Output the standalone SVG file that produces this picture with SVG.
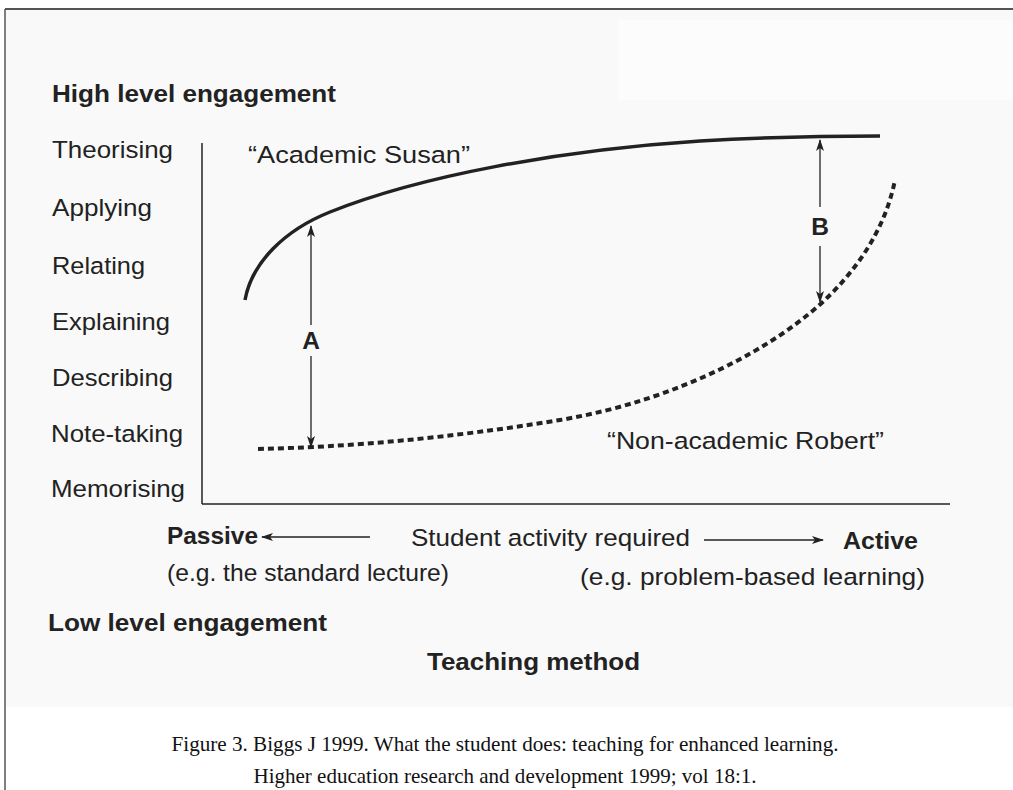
<svg xmlns="http://www.w3.org/2000/svg" width="1013" height="790" viewBox="0 0 1013 790">
<style>
.lbl{font-family:"Liberation Sans",Arial,sans-serif;font-size:24.5px;fill:#222}
.bold{font-family:"Liberation Sans",Arial,sans-serif;font-size:24.5px;font-weight:bold;fill:#222}
.cap{font-family:"Liberation Serif","Times New Roman",serif;font-size:21px;fill:#111}
.ln{stroke:#222;fill:none}
</style>
<defs>
<marker id="ah" viewBox="0 0 12 8" refX="11" refY="4" markerWidth="12" markerHeight="8" markerUnits="userSpaceOnUse" orient="auto-start-reverse">
<path d="M0,0 L12,4 L0,8 L3,4 z" fill="#222"/>
</marker>
</defs>
<rect x="0" y="0" width="1013" height="790" fill="#ffffff"/>
<rect x="6" y="10" width="1007" height="697" fill="#f9f9f9"/>
<rect x="618" y="20" width="395" height="80" fill="#fcfcfc"/>
<line x1="5" y1="9" x2="1013" y2="9" stroke="#555" stroke-width="2"/>
<line x1="5" y1="9" x2="5" y2="790" stroke="#555" stroke-width="1.5"/>

<g id="axes">
<line class="ln" x1="202" y1="143" x2="202" y2="504" stroke-width="1.5"/>
<line class="ln" x1="202" y1="504" x2="950" y2="504" stroke-width="1.5"/>
</g>

<g id="title-high"><text class="bold" x="52" y="102" textLength="284" lengthAdjust="spacingAndGlyphs">High level engagement</text></g>

<g id="levels">
<text class="lbl" x="52" y="158" textLength="121" lengthAdjust="spacingAndGlyphs">Theorising</text>
<text class="lbl" x="52" y="216" textLength="100" lengthAdjust="spacingAndGlyphs">Applying</text>
<text class="lbl" x="52" y="274" textLength="93" lengthAdjust="spacingAndGlyphs">Relating</text>
<text class="lbl" x="52" y="330" textLength="118" lengthAdjust="spacingAndGlyphs">Explaining</text>
<text class="lbl" x="52" y="386" textLength="121" lengthAdjust="spacingAndGlyphs">Describing</text>
<text class="lbl" x="51" y="442" textLength="132" lengthAdjust="spacingAndGlyphs">Note-taking</text>
<text class="lbl" x="51" y="497" textLength="134" lengthAdjust="spacingAndGlyphs">Memorising</text>
</g>

<g id="susan">
<path class="ln" d="M245,300 C252,262 285,230 330,212 C420,176 560,150 700,141 C770,137 830,136 880,136" stroke-width="3.5"/>
<text class="lbl" x="248" y="163" textLength="222" lengthAdjust="spacingAndGlyphs">“Academic Susan”</text>
</g>

<g id="robert">
<path class="ln" d="M258,449 C350,447 450,438 560,420 C680,400 780,345 830,295 C870,255 888,215 895,180" stroke-width="4" stroke-dasharray="6,4"/>
<text class="lbl" x="607" y="449" textLength="277" lengthAdjust="spacingAndGlyphs">“Non-academic Robert”</text>
</g>

<g id="connectors">
<line class="ln" x1="311" y1="325" x2="311" y2="226" stroke-width="1.3" marker-end="url(#ah)"/>
<line class="ln" x1="311" y1="356" x2="311" y2="447" stroke-width="1.3" marker-end="url(#ah)"/>
<line class="ln" x1="820" y1="207" x2="820" y2="140" stroke-width="1.3" marker-end="url(#ah)"/>
<line class="ln" x1="820" y1="246" x2="820" y2="302" stroke-width="1.3" marker-end="url(#ah)"/>
<line class="ln" x1="370" y1="537" x2="262" y2="537" stroke-width="1.3" marker-end="url(#ah)"/>
<line class="ln" x1="704" y1="540" x2="823" y2="540" stroke-width="1.3" marker-end="url(#ah)"/>
</g>

<g id="label-A"><text class="bold" x="311" y="349" text-anchor="middle" font-size="22">A</text></g>
<g id="label-B"><text class="bold" x="820" y="235" text-anchor="middle" font-size="22">B</text></g>

<g id="x-axis-labels">
<text class="bold" x="167" y="544" textLength="91" lengthAdjust="spacingAndGlyphs">Passive</text>
<text class="lbl" x="411" y="546" textLength="279" lengthAdjust="spacingAndGlyphs">Student activity required</text>
<text class="bold" x="843" y="549" textLength="75" lengthAdjust="spacingAndGlyphs">Active</text>
<text class="lbl" x="167" y="581" textLength="282" lengthAdjust="spacingAndGlyphs">(e.g. the standard lecture)</text>
<text class="lbl" x="580" y="585" textLength="345" lengthAdjust="spacingAndGlyphs">(e.g. problem-based learning)</text>
</g>

<g id="title-low"><text class="bold" x="48" y="631" textLength="279" lengthAdjust="spacingAndGlyphs">Low level engagement</text></g>
<g id="title-method"><text class="bold" x="427" y="670" textLength="213" lengthAdjust="spacingAndGlyphs">Teaching method</text></g>

<g id="caption">
<text class="cap" x="505" y="751" text-anchor="middle" textLength="667" lengthAdjust="spacingAndGlyphs">Figure 3. Biggs J 1999. What the student does: teaching for enhanced learning.</text>
<text class="cap" x="505" y="783" text-anchor="middle" font-size="20" textLength="503" lengthAdjust="spacingAndGlyphs">Higher education research and development 1999; vol 18:1.</text>
</g>
</svg>
